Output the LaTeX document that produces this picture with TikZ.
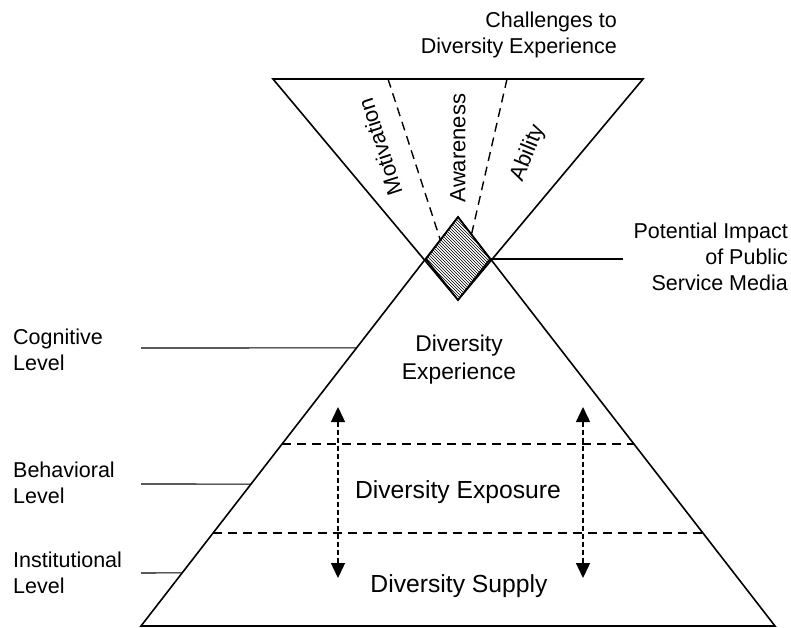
\documentclass[tikz,border=0pt]{standalone}
\usepackage{fontspec}
\setmainfont{Liberation Sans}
\usetikzlibrary{calc}
\usetikzlibrary{arrows.meta}
\usetikzlibrary{patterns}
\tikzset{
  borde/.style={line width=1.6pt, line join=miter},
  guia/.style={line width=1.1pt},
  corte/.style={line width=1.4pt, dash pattern=on 9pt off 6pt},
  flecha/.style={{Triangle[length=15pt,width=14pt]}-{Triangle[length=15pt,width=14pt]},
    line width=1.4pt, dash pattern=on 5pt off 3pt},
  etiqueta/.style={font=\fontsize{21.5}{26}\selectfont, inner sep=0pt},
  nivel/.style={font=\fontsize{24.7}{29}\selectfont, inner sep=0pt},
  reto/.style={font=\fontsize{22}{26}\selectfont, inner sep=0pt}
}

\begin{document}
\begin{tikzpicture}[x=1pt, y=-1pt]
  \useasboundingbox (0,0) rectangle (791,627);

  \coordinate (tl) at (273,79);
  \coordinate (tr) at (643,79);
  \coordinate (tv) at (458,300);
  \coordinate (bl) at (141,626);
  \coordinate (br) at (775,626);
  \coordinate (ba) at (458,217);
  \coordinate (dl) at (426,259);
  \coordinate (dr) at (490,259);

  \draw[borde] (tl) -- (tr) -- (tv) -- cycle;
  \draw[borde] (bl) -- (br) -- (ba) -- cycle;
  \draw[borde, pattern=north west lines] (ba) -- (dr) -- (tv) -- (dl) -- cycle;

  \coordinate (m1) at (388,79);
  \coordinate (m2) at (507,79);
  \draw[corte] (m1) -- ($(dl)!0.45!(ba)$);
  \draw[corte] (m2) -- ($(ba)!0.42!(dr)$);

  \draw[corte] ($(bl)!0.445!(ba)$) -- ($(br)!0.445!(ba)$);
  \draw[corte] ($(bl)!0.227!(ba)$) -- ($(br)!0.227!(ba)$);

  \coordinate (f1a) at (338,407);
  \coordinate (f1b) at (338,578);
  \coordinate (f2a) at (583,407);
  \coordinate (f2b) at (583,578);
  \draw[flecha] (f1a) -- (f1b);
  \draw[flecha] (f2a) -- (f2b);

  \node[reto, rotate=108] (motiv) at (380,147) {Motivation};
  \node[reto, rotate=90] (aware) at (458,148) {Awareness};
  \node[reto, rotate=68] (abil) at (528,153) {Ability};

  \node[etiqueta, align=right, anchor=east] (retos) at (617,35) {Challenges to\\Diversity Experience};
  \node[etiqueta, align=right, anchor=east] (psm) at (788,257) {Potential Impact\\of Public\\Service Media};
  \node[etiqueta, align=left, anchor=west] (cogn) at (13,350) {Cognitive\\Level};
  \node[etiqueta, align=left, anchor=west] (comp) at (13,483) {Behavioral\\Level};
  \node[etiqueta, align=left, anchor=west] (inst) at (13,573) {Institutional\\Level};

  \node[font=\fontsize{22.8}{28}\selectfont, inner sep=0pt, align=center] (exper) at (459,360) {Diversity\\Experience};
  \node[nivel] (expos) at (458,492) {Diversity Exposure};
  \node[nivel] (supply) at (459,586) {Diversity Supply};

  \coordinate (g0) at (623,259);
  \coordinate (g1) at (141,348);
  \coordinate (g2) at (141,484);
  \coordinate (g3) at (141,573);
  \draw[guia] (dr) -- (g0);
  \draw[guia] (g1) -- ($(bl)!0.68!(ba)$);
  \draw[guia] (g2) -- ($(bl)!0.347!(ba)$);
  \draw[guia] (g3) -- ($(bl)!0.13!(ba)$);
\end{tikzpicture}
\end{document}
